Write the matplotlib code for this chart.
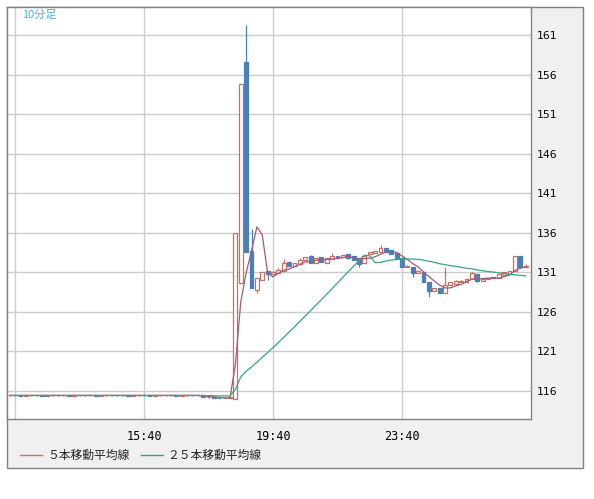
import matplotlib
matplotlib.use("Agg")
import matplotlib.pyplot as plt
from matplotlib.patches import Rectangle
from matplotlib.lines import Line2D

plt.rcParams['font.family'] = ['Noto Sans CJK JP', 'DejaVu Sans']

# 10-minute bars, index 0 = 11:40 (first bar at -1)
bar_idx = list(range(-1, 96))

opens = [115.40, 115.42, 115.40, 115.38, 115.40, 115.41, 115.40, 115.39, 115.40, 115.42,
         115.40, 115.40, 115.38, 115.40, 115.41, 115.40, 115.40, 115.39, 115.40, 115.42,
         115.40, 115.40, 115.40, 115.38, 115.40, 115.41, 115.40, 115.39, 115.40, 115.40,
         115.42, 115.40, 115.38, 115.40, 115.41, 115.40,
         115.40, 115.25, 115.15, 115.10, 115.05, 115.10,
         115.0, 129.6, 157.6, 133.7, 128.7, 130.0, 131.1, 130.8, 130.9, 131.2,
         132.3, 131.8, 132.0, 132.5, 133.0, 132.2, 132.9, 132.2, 132.7, 133.1,
         132.9, 133.3, 133.1, 132.8, 132.1, 133.3, 133.4, 133.5, 134.0, 133.8,
         133.4, 132.8, 131.6, 131.6, 130.9, 131.0, 129.8, 128.6, 129.0, 128.3,
         129.4, 129.5, 129.7, 129.8, 130.1, 130.8, 129.9, 130.1, 130.4, 130.3,
         130.6, 130.7, 131.1, 133.0, 131.6]
closes = [115.42, 115.40, 115.38, 115.40, 115.41, 115.40, 115.39, 115.40, 115.42, 115.40,
          115.40, 115.38, 115.40, 115.41, 115.40, 115.40, 115.39, 115.40, 115.42, 115.40,
          115.40, 115.40, 115.38, 115.40, 115.41, 115.40, 115.39, 115.40, 115.40, 115.42,
          115.40, 115.38, 115.40, 115.41, 115.40, 115.40,
          115.25, 115.15, 115.10, 115.05, 115.10, 115.10,
          136.0, 154.8, 133.5, 129.0, 130.3, 131.0, 130.7, 131.0, 131.3, 132.2,
          131.8, 132.1, 132.5, 132.9, 132.2, 132.8, 132.3, 132.8, 133.1, 132.8,
          133.2, 132.8, 132.5, 132.0, 133.0, 133.5, 133.7, 134.1, 133.5, 133.3,
          132.8, 131.6, 131.8, 130.9, 131.2, 129.7, 128.6, 129.0, 128.3, 129.4,
          129.7, 129.9, 129.9, 130.1, 130.9, 129.9, 130.1, 130.2, 130.2, 130.7,
          131.0, 131.1, 133.0, 131.6, 131.8]
highs = [115.44, 115.44, 115.42, 115.41, 115.42, 115.42, 115.41, 115.41, 115.43, 115.43,
         115.41, 115.41, 115.41, 115.42, 115.42, 115.41, 115.41, 115.41, 115.43, 115.43,
         115.41, 115.41, 115.41, 115.41, 115.42, 115.42, 115.41, 115.41, 115.41, 115.43,
         115.43, 115.41, 115.41, 115.42, 115.42, 115.41,
         115.41, 115.26, 115.16, 115.11, 115.11, 115.12,
         136.0, 154.8, 162.3, 136.5, 130.3, 131.0, 131.1, 131.1, 131.5, 132.7,
         132.3, 132.2, 132.8, 132.9, 133.2, 132.8, 132.9, 132.8, 133.4, 133.1,
         133.2, 133.3, 133.1, 132.8, 133.0, 133.5, 133.7, 134.4, 134.0, 133.8,
         133.4, 132.8, 131.9, 131.6, 131.3, 131.0, 129.8, 129.0, 129.0, 131.6,
         129.8, 130.0, 130.0, 130.2, 131.0, 130.8, 130.2, 130.2, 130.4, 130.7,
         131.0, 131.1, 133.0, 133.0, 132.0]
lows = [115.38, 115.38, 115.36, 115.36, 115.38, 115.38, 115.37, 115.37, 115.38, 115.38,
        115.37, 115.36, 115.36, 115.38, 115.38, 115.37, 115.37, 115.37, 115.38, 115.38,
        115.37, 115.37, 115.36, 115.36, 115.38, 115.38, 115.37, 115.37, 115.38, 115.38,
        115.37, 115.36, 115.36, 115.38, 115.38, 115.37,
        115.22, 115.12, 115.06, 115.02, 115.03, 115.06,
        115.0, 129.6, 133.5, 129.0, 128.4, 130.0, 130.0, 130.7, 130.9, 131.2,
        131.8, 131.8, 132.0, 132.5, 132.2, 132.2, 132.3, 132.2, 132.7, 132.8,
        132.9, 132.6, 132.5, 131.6, 132.1, 133.3, 133.4, 133.5, 133.5, 133.3,
        132.8, 131.6, 131.6, 130.4, 130.9, 129.7, 127.9, 128.6, 128.3, 128.3,
        129.4, 129.5, 129.7, 129.8, 130.1, 129.8, 129.9, 130.1, 130.2, 130.3,
        130.6, 130.7, 131.1, 131.5, 131.6]

# moving averages
ma5_idx = list(range(-1, 96))
ma5 = [115.40] * 36 + [115.34, 115.28, 115.22, 115.16, 115.10, 115.10,
       119.28, 127.22, 130.90, 133.68, 136.72, 135.72, 130.90, 130.40, 130.86, 131.24,
       131.40, 131.68, 131.98, 132.30, 132.30, 132.50, 132.54, 132.60, 132.64, 132.76,
       132.84, 132.94, 132.88, 132.66, 132.70, 132.76, 132.94, 133.26, 133.56, 133.62,
       133.48, 133.06, 132.60, 132.08, 131.66, 131.04, 130.44, 129.88, 129.36, 129.00,
       129.00, 129.26, 129.44, 129.80, 130.10, 130.14, 130.18, 130.24, 130.26, 130.22,
       130.44, 130.64, 131.20, 131.48, 131.70]
ma25 = [115.40] * 36 + [115.39, 115.38, 115.37, 115.35, 115.34, 115.33,
        116.15, 117.73, 118.45, 119.00, 119.59, 120.22, 120.83, 121.45, 122.09, 122.76,
        123.42, 124.09, 124.77, 125.47, 126.14, 126.84, 127.51, 128.21, 128.92, 129.63,
        130.35, 131.06, 131.76, 132.43, 133.15, 133.05, 132.20, 132.23, 132.41, 132.53,
        132.60, 132.63, 132.66, 132.65, 132.61, 132.52, 132.38, 132.24, 132.06, 131.95,
        131.82, 131.73, 131.61, 131.49, 131.42, 131.28, 131.17, 131.08, 131.01, 130.92,
        130.82, 130.71, 130.67, 130.59, 130.53]

y_ticks = [116, 121, 126, 131, 136, 141, 146, 151, 156, 161]
x_ticks = [0, 24, 48, 72]
x_labels = ['', '15:40', '19:40', '23:40']

up_col = '#c8705f'
down_col = '#4a80b8'
ma5_col = '#a8587a'
ma25_col = '#3aa57c'

W, H = 594, 499
fig = plt.figure(figsize=(W / 100, H / 100), dpi=100)
fig.patches.append(Rectangle((7 / W, 1 - 468 / H), 576 / W, 461 / H, transform=fig.transFigure,
                             facecolor='#f0f0f0', edgecolor='#808080', linewidth=1, zorder=-10))
ax = fig.add_axes([7 / W, 1 - 419 / H, 524 / W, 412 / H])
ax.set_zorder(5)
ax.set_facecolor('white')

for i, o, c, h, l in zip(bar_idx, opens, closes, highs, lows):
    col = up_col if c >= o else down_col
    ax.vlines(i, l, h, color=col, linewidth=0.9, zorder=2)
    bot, top = min(o, c), max(o, c)
    hgt = max(top - bot, 0.06)
    if c >= o:
        ax.bar(i, hgt, bottom=bot, width=0.7, facecolor='white', edgecolor=col, linewidth=0.9, zorder=3)
    else:
        ax.bar(i, hgt, bottom=bot, width=0.7, facecolor=col, edgecolor=col, linewidth=0.9, zorder=3)

ax.plot(ma5_idx, ma5, color=ma5_col, linewidth=0.9, zorder=4)
ax.plot(ma5_idx, ma25, color=ma25_col, linewidth=0.9, zorder=4)

ax.set_xlim(-1.49, 96.0)
ax.set_ylim(112.42, 164.54)
ax.set_yticks(y_ticks)
ax.set_xticks(x_ticks)
ax.set_xticklabels(x_labels, family='DejaVu Sans Mono', fontsize=8.5)
ax.yaxis.tick_right()
for lab in ax.get_yticklabels():
    lab.set_family('DejaVu Sans')
    lab.set_fontsize(7.8)
ax.tick_params(axis='y', length=0, pad=4)
ax.tick_params(axis='x', length=0, pad=8)
ax.grid(True, color='#cccccc', linewidth=1)
ax.set_axisbelow(True)
for s in ax.spines.values():
    s.set_color('#808080')
    s.set_linewidth(1)

fig.text(22 / W, 1 - 15 / H, '10分足', color='#4ab2da', fontsize=8, va='center', ha='left', zorder=10)

ly = 1 - 455 / H
fig.add_artist(Line2D([20 / W, 42 / W], [ly, ly], color='#c07878', linewidth=1))
fig.text(47 / W, ly, '５本移動平均線', fontsize=8.5, va='center', ha='left', color='#222222')
fig.add_artist(Line2D([141 / W, 163 / W], [ly, ly], color=ma25_col, linewidth=1))
fig.text(167 / W, ly, '２５本移動平均線', fontsize=8.5, va='center', ha='left', color='#222222')

fig.savefig('out.png', dpi=100)
